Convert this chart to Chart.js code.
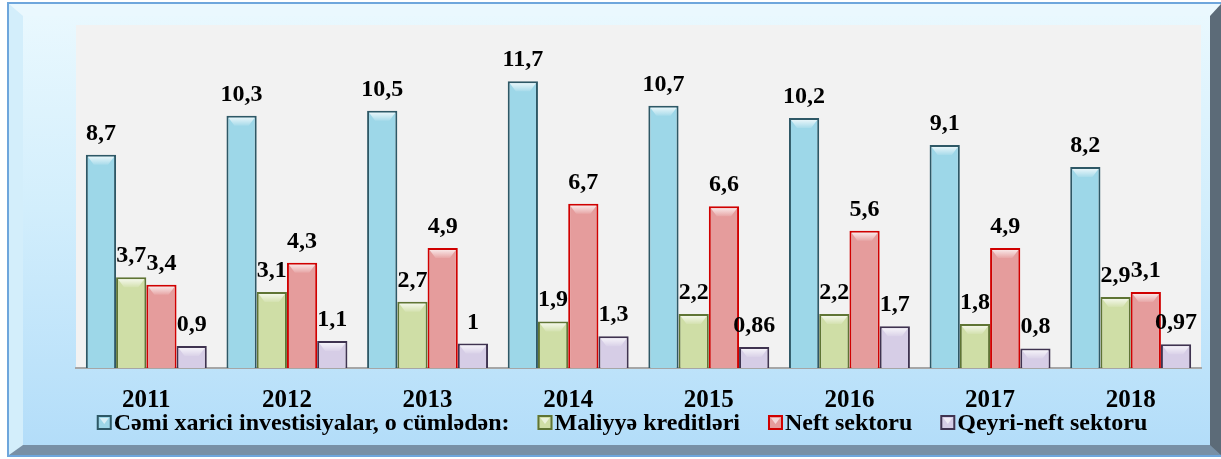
<!DOCTYPE html>
<html>
<head>
<meta charset="utf-8">
<script src="https://cdn.jsdelivr.net/npm/chart.js@4"></script>
<style>
  html, body { margin: 0; padding: 0; background: #ffffff; }
  #frame {
    position: absolute; left: 7px; top: 2px; width: 1214px; height: 455px;
    box-sizing: border-box;
    border-top: 2px solid #6ea6dc; border-left: 2px solid #6ea6dc; border-bottom: 2px solid #6ea6dc;
  }
  #bevel {
    position: absolute; left: 0; top: 0; right: 0; bottom: 0;
    box-sizing: border-box;
    border-left: 14px solid #d3eefb;
    border-top: 12px solid #eaf8fe;
    border-right: 11px solid #5c6b78;
    border-bottom: 10px solid #7890a6;
    background: linear-gradient(to bottom, #e9f8fe 0%, #d2eefc 45%, #b3ddf9 100%);
  }
  #wrap { position: absolute; left: 0; top: 0; width: 1221px; height: 459px; }
</style>
</head>
<body>
<div id="frame"><div id="bevel"></div></div>
<div id="wrap"><canvas id="ChartInvest"></canvas></div>
<script>
var years = ["2011", "2012", "2013", "2014", "2015", "2016", "2017", "2018"];
var cemi = [8.7, 10.3, 10.5, 11.7, 10.7, 10.2, 9.1, 8.2];
var maliyye = [3.7, 3.1, 2.7, 1.9, 2.2, 2.2, 1.8, 2.9];
var neft = [3.4, 4.3, 4.9, 6.7, 6.6, 5.6, 4.9, 3.1];
var qeyriNeft = [0.9, 1.1, 1, 1.3, 0.86, 1.7, 0.8, 0.97];

var serif = "'Liberation Serif', 'Times New Roman', serif";

// gray plot area
var plotBg = {
    id: 'plotBg',
    beforeDraw: function (chart) {
        var a = chart.chartArea, ctx = chart.ctx;
        ctx.save();
        ctx.fillStyle = '#f2f2f2';
        ctx.fillRect(a.left, a.top, a.right - a.left, a.bottom - a.top);
        ctx.restore();
    }
};

// bevel highlight on bar tops + value labels
var barLabels = {
    id: 'barLabels',
    afterDatasetsDraw: function (chart) {
        var ctx = chart.ctx;
        ctx.save();
        chart.data.datasets.forEach(function (ds, di) {
            chart.getDatasetMeta(di).data.forEach(function (bar, i) {
                var w = bar.width, l = bar.x - w / 2, r = bar.x + w / 2, t = bar.y;
                var g = ctx.createLinearGradient(0, t + 2, 0, t + 10);
                g.addColorStop(0, 'rgba(255,255,255,0.75)');
                g.addColorStop(1, 'rgba(255,255,255,0.1)');
                ctx.fillStyle = g;
                ctx.beginPath();
                ctx.moveTo(l + 2, t + 2);
                ctx.lineTo(r - 2, t + 2);
                ctx.lineTo(r - 8, t + 10);
                ctx.lineTo(l + 8, t + 10);
                ctx.closePath();
                ctx.fill();

                ctx.fillStyle = '#000';
                ctx.font = 'bold 24px ' + serif;
                ctx.textAlign = 'center';
                ctx.textBaseline = 'alphabetic';
                ctx.fillText(String(ds.data[i]).replace('.', ','), bar.x, t - 15);
            });
        });
        ctx.restore();
    }
};

// legend row under the year labels, box right next to text
var bottomLegend = {
    id: 'bottomLegend',
    afterDraw: function (chart) {
        var ctx = chart.ctx, gap = 28, box = 15;
        ctx.save();
        ctx.font = 'bold 24px ' + serif;
        ctx.textBaseline = 'alphabetic';
        ctx.textAlign = 'left';
        var items = chart.data.datasets;
        var total = 0;
        items.forEach(function (ds, i) {
            total += box + 2 + ctx.measureText(ds.label).width + (i < items.length - 1 ? gap : 0);
        });
        var x = 622 - total / 2, yBase = 430;
        items.forEach(function (ds) {
            ctx.fillStyle = ds.backgroundColor;
            ctx.fillRect(x, yBase - 15, box, box);
            ctx.strokeStyle = ds.borderColor;
            ctx.lineWidth = 2;
            ctx.strokeRect(x + 1, yBase - 14, box - 2, box - 2);
            ctx.fillStyle = 'rgba(255,255,255,0.6)';
            ctx.beginPath();
            ctx.moveTo(x + 3, yBase - 12);
            ctx.lineTo(x + box - 3, yBase - 12);
            ctx.lineTo(x + box / 2, yBase - 6);
            ctx.closePath();
            ctx.fill();
            ctx.fillStyle = '#000';
            ctx.fillText(ds.label, x + box + 2, yBase);
            x += box + 2 + ctx.measureText(ds.label).width + gap;
        });
        ctx.restore();
    }
};

new Chart(document.getElementById('ChartInvest'), {
    type: 'bar',
    data: {
        labels: years,
        datasets: [
            { label: 'Cəmi xarici investisiyalar, o cümlədən:', data: cemi, backgroundColor: '#9dd7e8', borderColor: '#2e5866', borderWidth: 2 },
            { label: 'Maliyyə kreditləri', data: maliyye, backgroundColor: '#cfdea6', borderColor: '#5f7434', borderWidth: 2 },
            { label: 'Neft sektoru', data: neft, backgroundColor: '#e59c9c', borderColor: '#d00000', borderWidth: 2 },
            { label: 'Qeyri-neft sektoru', data: qeyriNeft, backgroundColor: '#d6cde6', borderColor: '#3f3350', borderWidth: 2 }
        ]
    },
    options: {
        responsive: true,
        maintainAspectRatio: false,
        animation: false,
        layout: { padding: { left: 76, right: 20, top: 25, bottom: 25 } },
        datasets: { bar: { categoryPercentage: 0.86, barPercentage: 1 } },
        scales: {
            y: { display: false, min: 0, max: 14 },
            x: {
                grid: { display: false, drawTicks: false },
                border: { display: true, color: '#a6a6a6', width: 2 },
                ticks: { color: '#000', padding: 0, font: { family: serif, size: 25, weight: 'bold', lineHeight: '66px' } }
            }
        },
        plugins: {
            legend: { display: false },
            tooltip: { enabled: false }
        }
    },
    plugins: [plotBg, barLabels, bottomLegend]
});
</script>
</body>
</html>
